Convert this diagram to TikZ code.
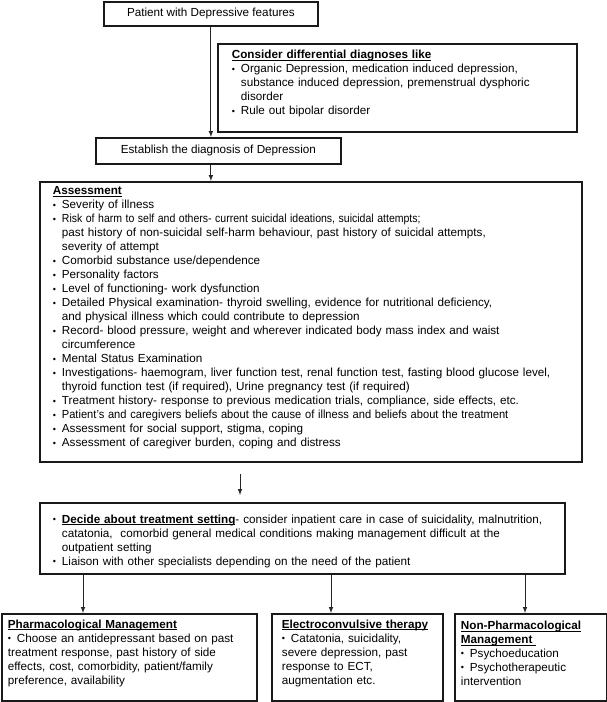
\documentclass[tikz,border=0pt]{standalone}
\usepackage{fontspec}
\usepackage{graphicx}
\setmainfont{Liberation Sans}
\usetikzlibrary{positioning,arrows,calc}
\tikzset{
	>=latex,
	flowbox/.style={
		rectangle,
		draw=black!90, line width=1.8pt,
		font=\fontsize{11.7}{14}\selectfont,
		align=left,
		inner ysep=0pt,
		anchor=north west},
	titlebox/.style={flowbox, align=center},
	link/.style={draw=black!85, line width=1pt, ->},
}
\newcommand*\uhead[1]{\underline{\smash{\textbf{#1}}}}
\newcommand*\pitem[1]{\par\noindent\hangindent=9pt\hangafter=1%
	\makebox[9pt][l]{\raisebox{0.6pt}{\fontsize{9}{9}\selectfont\textbullet}}#1}

\begin{document}
\begin{tikzpicture}[x=1pt,y=-1pt]
\useasboundingbox (0,0) rectangle (607,702);
\node[titlebox, minimum width=214pt, minimum height=24pt] (patient) at (103,1)
	{Patient with Depressive features};
\node[flowbox, minimum width=359pt, minimum height=88pt, inner xsep=14pt, text width=331pt] (differ) at (217,43)
	{\uhead{Consider differential diagnoses like}
	\pitem{Organic Depression, medication induced depression,\newline substance induced depression, premenstrual dysphoric\newline disorder}
	\pitem{Rule out bipolar disorder}};
\node[titlebox, minimum width=245pt, minimum height=26pt] (establish) at (95,137)
	{Establish the diagnosis of Depression};
\node[flowbox, minimum width=542pt, minimum height=280pt, inner xsep=13pt, text width=516pt] (assess) at (39,181)
	{\uhead{Assessment}
	\pitem{Severity of illness}
	\pitem{\scalebox{0.9}[1]{Risk of harm to self and others- current suicidal ideations, suicidal attempts;}\newline past history of non-suicidal self-harm behaviour, past history of suicidal attempts,\newline severity of attempt}
	\pitem{Comorbid substance use/dependence}
	\pitem{Personality factors}
	\pitem{Level of functioning- work dysfunction}
	\pitem{Detailed Physical examination- thyroid swelling, evidence for nutritional deficiency,\newline and physical illness which could contribute to depression}
	\pitem{Record- blood pressure, weight and wherever indicated body mass index and waist\newline circumference}
	\pitem{Mental Status Examination}
	\pitem{Investigations- haemogram, liver function test, renal function test, fasting blood glucose level,\newline thyroid function test (if required), Urine pregnancy test (if required)}
	\pitem{Treatment history- response to previous medication trials, compliance, side effects, etc.}
	\pitem{\scalebox{0.95}[1]{Patient’s and caregivers beliefs about the cause of illness and beliefs about the treatment}}
	\pitem{Assessment for social support, stigma, coping}
	\pitem{Assessment of caregiver burden, coping and distress}};
\node[flowbox, minimum width=525pt, minimum height=71pt, inner xsep=13pt, text width=499pt] (setting) at (39,502)
	{\pitem{\uhead{Decide about treatment setting}- consider inpatient care in case of suicidality, malnutrition,\newline catatonia,\ \ comorbid general medical conditions making management difficult at the\newline outpatient setting}
	\pitem{Liaison with other specialists depending on the need of the patient}};
\node[flowbox, minimum width=255pt, minimum height=87pt, inner xsep=6pt, text width=243pt] (pharma) at (1,613)
	{\uhead{Pharmacological Management}
	\pitem{Choose an antidepressant based on past\newline treatment response, past history of side\newline effects, cost, comorbidity, patient/family\newline preference, availability}};
\node[flowbox, minimum width=171pt, minimum height=87pt, inner xsep=10pt, text width=151pt] (ect) at (271,613)
	{\uhead{Electroconvulsive therapy}
	\pitem{Catatonia, suicidality,\newline severe depression, past\newline response to ECT,\newline augmentation etc.}};
\node[flowbox, minimum width=152pt, minimum height=87pt, inner xsep=6pt, text width=140pt] (nonpharma) at (454,613)
	{\uhead{Non-Pharmacological}\newline\uhead{Management\ }
	\pitem{Psychoeducation}
	\pitem{Psychotherapeutic\newline intervention}};
\draw[link] (patient.south) -- (patient.south |- establish.north);
\draw[link] (establish.south -| patient.south) -- (patient.south |- assess.north);
\draw[link, shorten <=11pt, shorten >=7pt] ([xshift=201pt]assess.south west) -- ([xshift=201pt]setting.north west);
\draw[link] ([xshift=44pt]setting.south west) -- ([xshift=44pt]setting.south west |- pharma.north);
\draw[link] ([xshift=292pt]setting.south west) -- ([xshift=292pt]setting.south west |- ect.north);
\draw[link] ([xshift=486pt]setting.south west) -- ([xshift=486pt]setting.south west |- nonpharma.north);
\end{tikzpicture}
\end{document}
